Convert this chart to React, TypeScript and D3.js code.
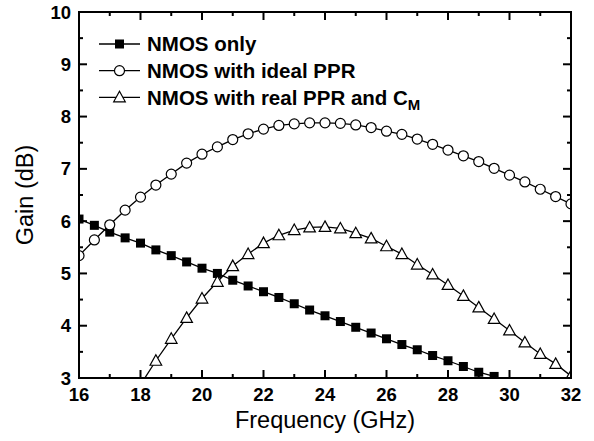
import React from "react";
import * as d3 from "d3";

const freqs = [16,16.5,17,17.5,18,18.5,19,19.5,20,20.5,21,21.5,22,22.5,23,23.5,24,24.5,25,25.5,26,26.5,27,27.5,28,28.5,29,29.5,30,30.5,31,31.5,32];
const nmosOnly = [6.04,5.92,5.79,5.68,5.58,5.45,5.34,5.22,5.10,5.00,4.87,4.76,4.65,4.54,4.42,4.30,4.19,4.08,3.97,3.86,3.75,3.64,3.54,3.43,3.33,3.22,3.11,3.03];
const idealPPR = [5.34,5.64,5.93,6.21,6.46,6.69,6.90,7.11,7.28,7.42,7.56,7.67,7.76,7.83,7.86,7.88,7.88,7.87,7.84,7.79,7.72,7.66,7.57,7.47,7.36,7.25,7.14,7.01,6.88,6.75,6.61,6.47,6.33];
const realPPRFreqs = [18,18.5,19,19.5,20,20.5,21,21.5,22,22.5,23,23.5,24,24.5,25,25.5,26,26.5,27,27.5,28,28.5,29,29.5,30,30.5,31,31.5,32];
const realPPR = [2.87,3.33,3.75,4.15,4.52,4.84,5.14,5.37,5.58,5.73,5.83,5.88,5.89,5.86,5.77,5.67,5.52,5.37,5.17,4.98,4.78,4.57,4.35,4.13,3.91,3.68,3.46,3.27,3.04];

const xTicks = [16,18,20,22,24,26,28,30,32];
const yTicks = [3,4,5,6,7,8,9,10];
const legendLabels = ["NMOS only", "NMOS with ideal PPR", "NMOS with real PPR and C"];

const W = 594, H = 441;
const M = { left: 79, top: 12, right: 23, bottom: 63 };

export default function App() {
  const x = d3.scaleLinear().domain([16, 32]).range([M.left, W - M.right]);
  const y = d3.scaleLinear().domain([3, 10]).range([H - M.bottom, M.top]);
  const x0 = M.left, x1 = W - M.right, y0 = H - M.bottom, y1 = M.top;

  const line = d3.line<[number, number]>().x(d => x(d[0])).y(d => y(d[1]));
  const s1: [number, number][] = nmosOnly.map((v, i) => [freqs[i], v]);
  const s2: [number, number][] = idealPPR.map((v, i) => [freqs[i], v]);
  const s3: [number, number][] = realPPR.map((v, i) => [realPPRFreqs[i], v]);

  const xMinor = d3.range(16, 32.001, 1);
  const yMinor = d3.range(3, 10.001, 0.5);
  const majL = 8, minL = 4;
  const font = "'Liberation Sans', Arial, sans-serif";

  const square = (cx: number, cy: number, k: string) => (
    <rect key={k} x={cx - 4.5} y={cy - 4.5} width={9} height={9} fill="#000" />
  );
  const circle = (cx: number, cy: number, k: string) => (
    <circle key={k} cx={cx} cy={cy} r={5} fill="#fff" stroke="#000" strokeWidth={1.2} />
  );
  const tri = (cx: number, cy: number, k: string) => (
    <path key={k} d={`M${cx},${cy - 6}L${cx + 5.8},${cy + 4.5}L${cx - 5.8},${cy + 4.5}Z`} fill="#fff" stroke="#000" strokeWidth={1.2} />
  );

  const legendY = [44, 70.7, 97.3];
  const markers = [square, circle, tri];

  return (
    <svg width={W} height={H} style={{ position: "absolute", left: 0, top: 0, background: "#fff" }}>
      <defs>
        <clipPath id="plot">
          <rect x={x0} y={y1} width={x1 - x0} height={y0 - y1} />
        </clipPath>
      </defs>
      <rect x={0} y={0} width={W} height={H} fill="#fff" />
      <g clipPath="url(#plot)">
        <path d={line(s1) || ""} fill="none" stroke="#000" strokeWidth={1.3} />
        <path d={line(s2) || ""} fill="none" stroke="#000" strokeWidth={1.3} />
        <path d={line(s3) || ""} fill="none" stroke="#000" strokeWidth={1.3} />
        {s1.map((d, i) => square(x(d[0]), y(d[1]), "a" + i))}
        {s2.map((d, i) => circle(x(d[0]), y(d[1]), "b" + i))}
        {s3.map((d, i) => (d[1] >= 3 ? tri(x(d[0]), y(d[1]), "c" + i) : null))}
      </g>
      <g stroke="#000" strokeWidth={2}>
        {xMinor.map(v => {
          const L = xTicks.includes(v) ? majL : minL;
          return (
            <g key={"xt" + v}>
              <line x1={x(v)} x2={x(v)} y1={y0} y2={y0 - L} />
              <line x1={x(v)} x2={x(v)} y1={y1} y2={y1 + L} />
            </g>
          );
        })}
        {yMinor.map(v => {
          const L = yTicks.includes(v) ? majL : minL;
          return (
            <g key={"yt" + v}>
              <line x1={x0} x2={x0 + L} y1={y(v)} y2={y(v)} />
              <line x1={x1} x2={x1 - L} y1={y(v)} y2={y(v)} />
            </g>
          );
        })}
      </g>
      <rect x={x0} y={y1} width={x1 - x0} height={y0 - y1} fill="none" stroke="#000" strokeWidth={2} />
      <g fontFamily={font} fontWeight="bold" fontSize={18.5} fill="#000">
        {xTicks.map(v => (
          <text key={"xl" + v} x={x(v)} y={400.5} textAnchor="middle">{v}</text>
        ))}
        {yTicks.map(v => (
          <text key={"yl" + v} x={71} y={y(v) + 6.5} textAnchor="end">{v}</text>
        ))}
      </g>
      <text x={(x0 + x1) / 2} y={428} textAnchor="middle" fontFamily={font} fontSize={23.5} fill="#000">Frequency (GHz)</text>
      <text transform={`translate(33,${(y0 + y1) / 2}) rotate(-90)`} textAnchor="middle" fontFamily={font} fontSize={23.5} fill="#000">Gain (dB)</text>
      {legendY.map((ly, i) => (
        <g key={"lg" + i}>
          <line x1={99} x2={140} y1={ly} y2={ly} stroke="#000" strokeWidth={1.3} />
          {markers[i](119.5, ly, "lm" + i)}
          <text x={147} y={ly + 7.2} fontFamily={font} fontWeight="bold" fontSize={20.5} fill="#000">
            {legendLabels[i]}
            {i === 2 ? <tspan dy={5} fontSize={15}>M</tspan> : null}
          </text>
        </g>
      ))}
    </svg>
  );
}
